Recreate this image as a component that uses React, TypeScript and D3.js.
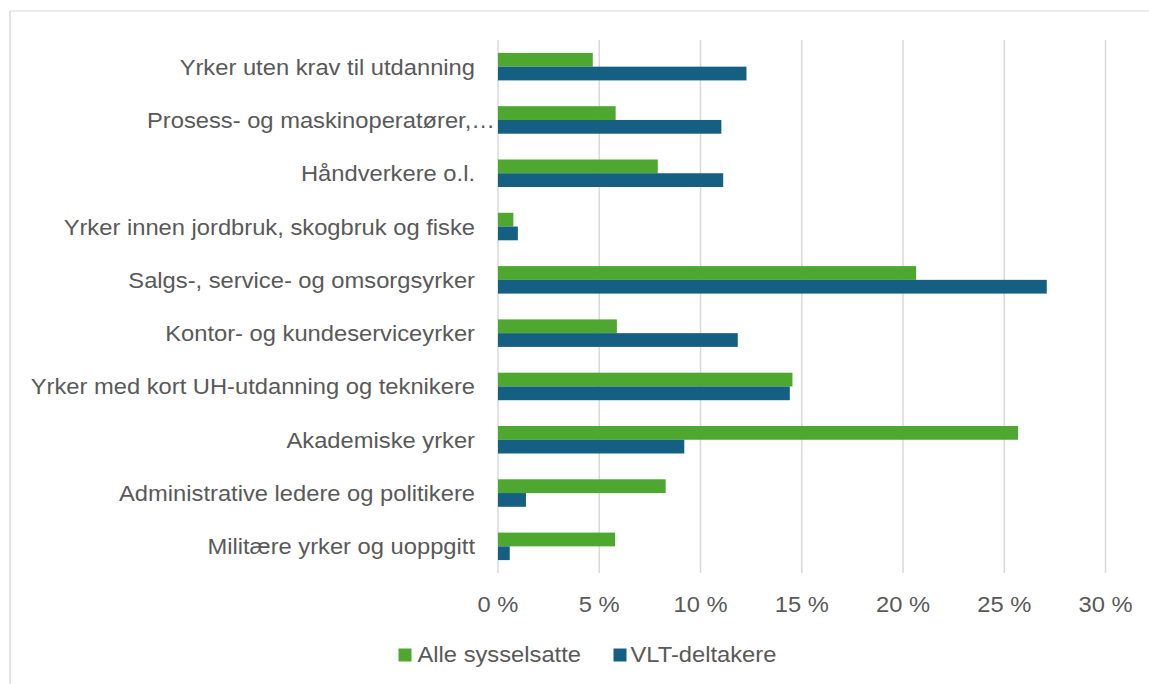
import React from "react";
import * as d3 from "d3";

const categories = [
  "Yrker uten krav til utdanning",
  "Prosess- og maskinoperatører,…",
  "Håndverkere o.l.",
  "Yrker innen jordbruk, skogbruk og fiske",
  "Salgs-, service- og omsorgsyrker",
  "Kontor- og kundeserviceyrker",
  "Yrker med kort UH-utdanning og teknikere",
  "Akademiske yrker",
  "Administrative ledere og politikere",
  "Militære yrker og uoppgitt",
];

const alleSysselsatte = [4.68, 5.81, 7.89, 0.76, 20.65, 5.87, 14.54, 25.68, 8.28, 5.78];
const vltDeltakere = [12.27, 11.03, 11.12, 0.98, 27.1, 11.84, 14.41, 9.2, 1.38, 0.58];

const xTicks = [0, 5, 10, 15, 20, 25, 30];

const seriesNames = ["Alle sysselsatte", "VLT-deltakere"];
const seriesColors = ["#4EA72E", "#156082"];

const W = 1149;
const H = 684;
const FONT = "'Liberation Sans', Arial, sans-serif";
const TEXT = "#595959";
const GRID = "#D9D9D9";
const SX = 1.055;
const FS = 22.5;

function T(props: {
  x: number;
  y: number;
  anchor?: "start" | "middle" | "end";
  children: React.ReactNode;
}) {
  return (
    <text
      transform={`translate(${props.x},${props.y}) scale(${SX},1)`}
      textAnchor={props.anchor || "start"}
      fontSize={FS}
      fill={TEXT}
    >
      {props.children}
    </text>
  );
}

export default function App() {
  const x = d3.scaleLinear().domain([0, 30]).range([498, 1105.5]);
  const y = d3
    .scaleBand<string>()
    .domain(categories)
    .range([40, 573])
    .paddingInner(0.484)
    .paddingOuter(0.242);
  const sub = d3
    .scaleBand<string>()
    .domain(seriesNames)
    .range([0, y.bandwidth()]);

  const series = [alleSysselsatte, vltDeltakere];

  return (
    <svg
      width={W}
      height={H}
      style={{ position: "fixed", left: 0, top: 0, display: "block", background: "#fff" }}
      fontFamily={FONT}
    >
      <rect x={0} y={0} width={W} height={H} fill="#fff" />
      {/* chart area border */}
      <line x1={10} y1={11} x2={W} y2={11} stroke={GRID} strokeWidth={1.2} />
      <line x1={10} y1={11} x2={10} y2={H} stroke={GRID} strokeWidth={1.5} />

      {/* gridlines */}
      {xTicks.map((t) => (
        <line
          key={t}
          x1={x(t)}
          x2={x(t)}
          y1={40}
          y2={573}
          stroke={GRID}
          strokeWidth={1.5}
        />
      ))}

      {/* bars */}
      {categories.map((c, i) => (
        <g key={c}>
          {series.map((s, j) => (
            <rect
              key={j}
              x={x(0)}
              y={(y(c) as number) + (sub(seriesNames[j]) as number)}
              width={x(s[i]) - x(0)}
              height={sub.bandwidth()}
              fill={seriesColors[j]}
            />
          ))}
        </g>
      ))}

      {/* category labels */}
      {categories.map((c) => (
        <T
          key={c}
          x={c.endsWith("…") ? 495 : 475}
          y={(y(c) as number) + y.bandwidth() / 2 + 8}
          anchor="end"
        >
          {c}
        </T>
      ))}

      {/* x tick labels */}
      {xTicks.map((t) => (
        <T key={t} x={x(t)} y={612} anchor="middle">
          {`${t} %`}
        </T>
      ))}

      {/* legend */}
      {[
        { sx: 398.5, tx: 417.5 },
        { sx: 613.5, tx: 630.5 },
      ].map((p, j) => (
        <g key={j}>
          <rect x={p.sx} y={648.5} width={13} height={13} fill={seriesColors[j]} />
          <T x={p.tx} y={662}>
            {seriesNames[j]}
          </T>
        </g>
      ))}
    </svg>
  );
}
